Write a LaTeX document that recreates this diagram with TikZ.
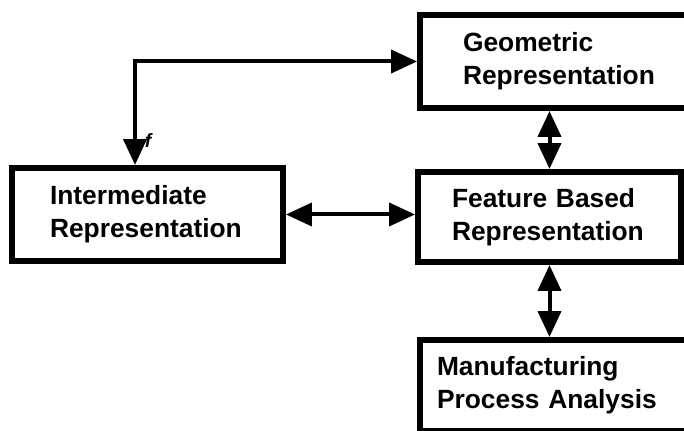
\documentclass[tikz,border=0pt]{standalone}
\usepackage{fontspec}
\setmainfont{Liberation Sans}
\usepackage{tikz}
\usetikzlibrary{arrows.meta}

\begin{document}
\begin{tikzpicture}[x=0.02cm,y=-0.02cm,font=\fontsize{15}{18.8}\selectfont\bfseries,
  block/.style={draw,line width=0.12cm,align=left,text width=3.9cm,inner sep=0pt},
  link/.style={line width=0.08cm,{Triangle[length=0.52cm,width=0.46cm]}-{Triangle[length=0.52cm,width=0.46cm]}}]
\useasboundingbox (0,0) rectangle (684,431);
\node[block,minimum width=5.62cm,minimum height=1.86cm] (geo) at (560.5,61.5) {Geometric\\Representation};
\node[block,minimum width=5.42cm,minimum height=1.86cm] (inter) at (147.5,214.5) {Intermediate\\Representation};
\node[block,minimum width=5.26cm,minimum height=1.8cm] (feat) at (549.5,217) {Feature Based\\Representation};
\node[block,text width=4.92cm,minimum width=5.6cm,minimum height=1.82cm] (manu) at (560,385.5) {Manufacturing\\Process Analysis};
\coordinate (corner) at (135,61.5);
\draw[link] (corner |- inter.north) -- (corner) -- (geo.west);
\node[font=\fontsize{11}{12}\selectfont\bfseries\itshape] (fmark) at (148,141) {f};
\draw[link] (inter.east) -- (inter.east -| feat.west);
\draw[link] (geo.south -| feat.north) -- (feat.north);
\draw[link] (feat.south) -- (feat.south |- manu.north);
\end{tikzpicture}
\end{document}
